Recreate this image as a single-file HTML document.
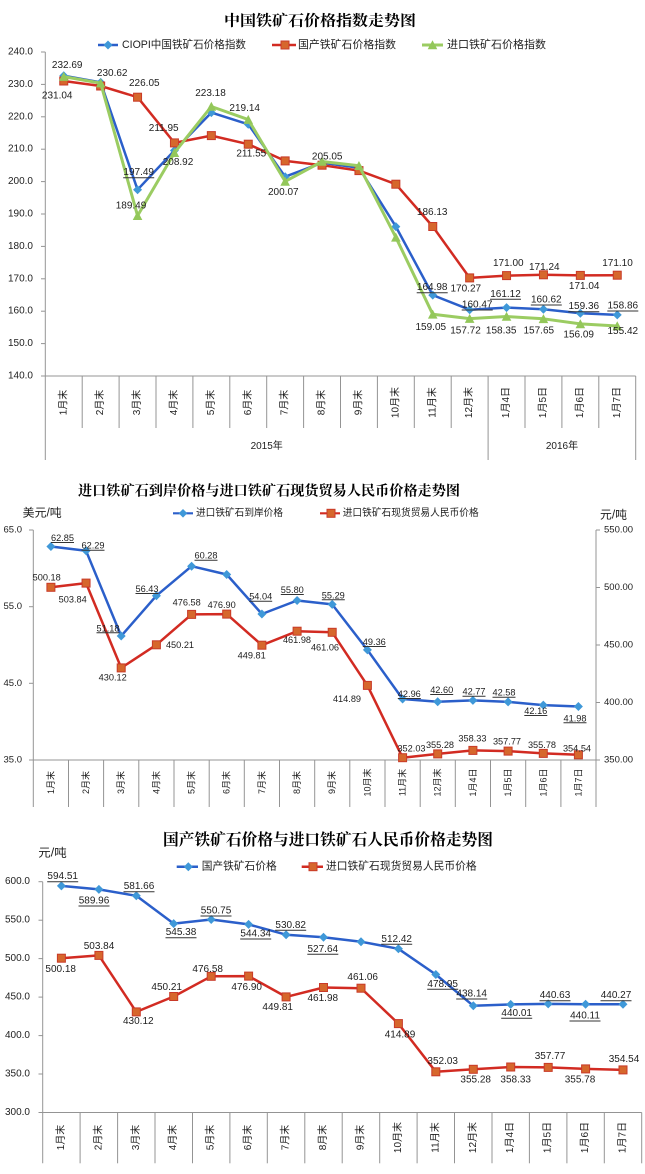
<!DOCTYPE html>
<html><head><meta charset="utf-8">
<style>
html,body{margin:0;padding:0;background:#fff;width:645px;height:1174px;overflow:hidden}
svg{display:block}
text{font-family:"Liberation Sans","Noto Sans CJK SC",sans-serif;fill:#1e1e1e}
.tt{font-family:"Liberation Serif","Noto Serif CJK SC",serif;font-weight:bold;fill:#000}
.lb{font-size:10px;text-anchor:middle;dominant-baseline:central}
.lb2{font-size:9.2px;text-anchor:middle;dominant-baseline:central}
.tk{font-size:10px;text-anchor:end;dominant-baseline:central}
.tk2{font-size:9.5px;dominant-baseline:central}
.ct{font-size:10px;text-anchor:middle;dominant-baseline:central}
.ct2{font-size:9px;text-anchor:middle;dominant-baseline:central}
.ax{stroke:#949494;stroke-width:1;fill:none}
.ul{stroke:#333;stroke-width:1}
.bl{fill:none;stroke:#2b5fca;stroke-width:2.5;stroke-linejoin:round}
.rd{fill:none;stroke:#d22b22;stroke-width:2.5;stroke-linejoin:round}
.gr{fill:none;stroke:#9bcc62;stroke-width:3;stroke-linejoin:round}
</style></head>
<body>
<svg width="645" height="1174" viewBox="0 0 645 1174" xmlns="http://www.w3.org/2000/svg">
<defs>
<marker id="d" viewBox="0 0 10 10" refX="5" refY="5" markerWidth="10" markerHeight="10" markerUnits="userSpaceOnUse"><path d="M5 0.5L9.5 5L5 9.5L0.5 5Z" fill="#3f98d8"/></marker>
<marker id="s" viewBox="0 0 10 10" refX="5" refY="5" markerWidth="10" markerHeight="10" markerUnits="userSpaceOnUse"><rect x="1" y="1" width="8" height="8" fill="#d6672c" stroke="#c93a28" stroke-width="1"/></marker>
<marker id="t" viewBox="0 0 10 10" refX="5" refY="5" markerWidth="10" markerHeight="10" markerUnits="userSpaceOnUse"><path d="M5 0.3L9.8 9.3L0.2 9.3Z" fill="#93c75a"/></marker>
</defs>

<!-- ================= CHART 1 ================= -->
<text class="tt" x="224" y="25.5" font-size="15" textLength="192" lengthAdjust="spacingAndGlyphs">中国铁矿石价格指数走势图</text>

<line x1="98" y1="45" x2="118" y2="45" stroke="#2b5fca" stroke-width="2.5"/>
<path d="M108 40.5L112.5 45L108 49.5L103.5 45Z" fill="#3f98d8"/>
<text x="122" y="45" font-size="11" dominant-baseline="central" textLength="124" lengthAdjust="spacingAndGlyphs">CIOPI中国铁矿石价格指数</text>
<line x1="272" y1="45" x2="296" y2="45" stroke="#d22b22" stroke-width="2.5"/>
<rect x="281" y="41" width="8" height="8" fill="#d6672c" stroke="#c93a28"/>
<text x="298" y="45" font-size="11" dominant-baseline="central" textLength="98" lengthAdjust="spacingAndGlyphs">国产铁矿石价格指数</text>
<line x1="422" y1="45" x2="443" y2="45" stroke="#9bcc62" stroke-width="3"/>
<path d="M432.5 40.3L437.3 49.3L427.7 49.3Z" fill="#93c75a"/>
<text x="447" y="45" font-size="11" dominant-baseline="central" textLength="99" lengthAdjust="spacingAndGlyphs">进口铁矿石价格指数</text>

<line class="ax" x1="45.3" y1="52" x2="45.3" y2="460"/>
<line class="ax" x1="45.3" y1="376" x2="635.7" y2="376"/>
<g class="ax">
<line x1="41" y1="52" x2="45.3" y2="52"/><line x1="41" y1="84.4" x2="45.3" y2="84.4"/><line x1="41" y1="116.8" x2="45.3" y2="116.8"/><line x1="41" y1="149.2" x2="45.3" y2="149.2"/><line x1="41" y1="181.6" x2="45.3" y2="181.6"/><line x1="41" y1="214" x2="45.3" y2="214"/><line x1="41" y1="246.4" x2="45.3" y2="246.4"/><line x1="41" y1="278.8" x2="45.3" y2="278.8"/><line x1="41" y1="311.2" x2="45.3" y2="311.2"/><line x1="41" y1="343.6" x2="45.3" y2="343.6"/><line x1="41" y1="376" x2="45.3" y2="376"/>
<line x1="82.2" y1="376" x2="82.2" y2="428"/><line x1="119.1" y1="376" x2="119.1" y2="428"/><line x1="156" y1="376" x2="156" y2="428"/><line x1="192.9" y1="376" x2="192.9" y2="428"/><line x1="229.8" y1="376" x2="229.8" y2="428"/><line x1="266.7" y1="376" x2="266.7" y2="428"/><line x1="303.6" y1="376" x2="303.6" y2="428"/><line x1="340.5" y1="376" x2="340.5" y2="428"/><line x1="377.4" y1="376" x2="377.4" y2="428"/><line x1="414.3" y1="376" x2="414.3" y2="428"/><line x1="451.2" y1="376" x2="451.2" y2="428"/><line x1="488.1" y1="376" x2="488.1" y2="460"/><line x1="525" y1="376" x2="525" y2="428"/><line x1="561.9" y1="376" x2="561.9" y2="428"/><line x1="598.8" y1="376" x2="598.8" y2="428"/><line x1="635.7" y1="376" x2="635.7" y2="460"/>
</g>
<text class="tk" x="33" y="52">240.0</text><text class="tk" x="33" y="84.4">230.0</text><text class="tk" x="33" y="116.8">220.0</text><text class="tk" x="33" y="149.2">210.0</text><text class="tk" x="33" y="181.6">200.0</text><text class="tk" x="33" y="214">190.0</text><text class="tk" x="33" y="246.4">180.0</text><text class="tk" x="33" y="278.8">170.0</text><text class="tk" x="33" y="311.2">160.0</text><text class="tk" x="33" y="343.6">150.0</text><text class="tk" x="33" y="376">140.0</text>

<text class="ct" transform="translate(63.75,402.5) rotate(-90)">1月末</text>
<text class="ct" transform="translate(100.65,402.5) rotate(-90)">2月末</text>
<text class="ct" transform="translate(137.55,402.5) rotate(-90)">3月末</text>
<text class="ct" transform="translate(174.45,402.5) rotate(-90)">4月末</text>
<text class="ct" transform="translate(211.35,402.5) rotate(-90)">5月末</text>
<text class="ct" transform="translate(248.25,402.5) rotate(-90)">6月末</text>
<text class="ct" transform="translate(285.15,402.5) rotate(-90)">7月末</text>
<text class="ct" transform="translate(322.05,402.5) rotate(-90)">8月末</text>
<text class="ct" transform="translate(358.95,402.5) rotate(-90)">9月末</text>
<text class="ct" transform="translate(395.85,402.5) rotate(-90)">10月末</text>
<text class="ct" transform="translate(432.75,402.5) rotate(-90)">11月末</text>
<text class="ct" transform="translate(469.65,402.5) rotate(-90)">12月末</text>
<text class="ct" transform="translate(506.55,402.5) rotate(-90)">1月4日</text>
<text class="ct" transform="translate(543.45,402.5) rotate(-90)">1月5日</text>
<text class="ct" transform="translate(580.35,402.5) rotate(-90)">1月6日</text>
<text class="ct" transform="translate(617.25,402.5) rotate(-90)">1月7日</text>
<text class="ct" x="266.7" y="446.7">2015年</text>
<text class="ct" x="562" y="446.7">2016年</text>

<polyline class="bl" marker-start="url(#d)" marker-mid="url(#d)" marker-end="url(#d)" points="63.75,75.7 100.65,82.4 137.55,189.7 174.45,150.5 211.35,112.6 248.25,124.3 285.15,176.7 322.05,162.8 358.95,167.7 395.85,226.6 432.75,295.1 469.65,309.7 506.55,307.6 543.45,309.2 580.35,313.3 617.25,314.9"/>
<polyline class="rd" marker-start="url(#s)" marker-mid="url(#s)" marker-end="url(#s)" points="63.75,81 100.65,86 137.55,97.2 174.45,142.9 211.35,135.6 248.25,144.2 285.15,160.9 322.05,165.2 358.95,170.6 395.85,184.2 432.75,226.5 469.65,277.9 506.55,275.6 543.45,274.8 580.35,275.4 617.25,275.2"/>
<polyline class="gr" marker-start="url(#t)" marker-mid="url(#t)" marker-end="url(#t)" points="63.75,76.6 100.65,83.1 137.55,215.7 174.45,152.7 211.35,106.5 248.25,119.6 285.15,181.4 322.05,161.5 358.95,165.7 395.85,237.3 432.75,314.3 469.65,318.6 506.55,316.5 543.45,318.8 580.35,323.9 617.25,326"/>

<text class="lb" x="67.2" y="65.7">232.69</text>
<text class="lb" x="57.2" y="96">231.04</text>
<text class="lb" x="112.2" y="73.3">230.62</text>
<text class="lb" x="144.3" y="83.3">226.05</text>
<text class="lb" x="138.7" y="172.7">197.49</text><line class="ul" x1="123.2" y1="177.7" x2="154.2" y2="177.7"/>
<text class="lb" x="131" y="206">189.49</text>
<text class="lb" x="163.7" y="128.3">211.95</text>
<text class="lb" x="178" y="162.7">208.92</text>
<text class="lb" x="210.5" y="93.3">223.18</text>
<text class="lb" x="244.7" y="108.7">219.14</text>
<text class="lb" x="251.3" y="154">211.55</text>
<text class="lb" x="283.3" y="192.7">200.07</text>
<text class="lb" x="327.2" y="157">205.05</text>
<text class="lb" x="432.2" y="212.3">186.13</text>
<text class="lb" x="432.2" y="287.7">164.98</text><line class="ul" x1="416.7" y1="292.7" x2="447.7" y2="292.7"/>
<text class="lb" x="430.8" y="327.3">159.05</text>
<text class="lb" x="465.8" y="289">170.27</text>
<text class="lb" x="477.2" y="305">160.47</text><line class="ul" x1="461.7" y1="310" x2="492.7" y2="310"/>
<text class="lb" x="465.5" y="331">157.72</text>
<text class="lb" x="508.3" y="263.3">171.00</text>
<text class="lb" x="505.5" y="294.3">161.12</text><line class="ul" x1="490" y1="299.3" x2="521" y2="299.3"/>
<text class="lb" x="501.2" y="331">158.35</text>
<text class="lb" x="544.3" y="267.3">171.24</text>
<text class="lb" x="546.3" y="300">160.62</text><line class="ul" x1="530.8" y1="305" x2="561.8" y2="305"/>
<text class="lb" x="538.8" y="331">157.65</text>
<text class="lb" x="584.2" y="286.7">171.04</text>
<text class="lb" x="583.8" y="306.7">159.36</text><line class="ul" x1="568.3" y1="311.7" x2="599.3" y2="311.7"/>
<text class="lb" x="578.7" y="335">156.09</text>
<text class="lb" x="617.5" y="263.3">171.10</text>
<text class="lb" x="622.8" y="306">158.86</text><line class="ul" x1="607.3" y1="311" x2="638.3" y2="311"/>
<text class="lb" x="622.8" y="331.7">155.42</text>

<!-- ================= CHART 2 ================= -->
<text class="tt" x="78" y="495.5" font-size="14" textLength="382" lengthAdjust="spacingAndGlyphs">进口铁矿石到岸价格与进口铁矿石现货贸易人民币价格走势图</text>
<text x="22.7" y="513.5" font-size="11.5" dominant-baseline="central" textLength="39" lengthAdjust="spacingAndGlyphs">美元/吨</text>
<text x="600" y="515.7" font-size="11.5" dominant-baseline="central" textLength="27" lengthAdjust="spacingAndGlyphs">元/吨</text>

<line x1="173" y1="513.3" x2="193" y2="513.3" stroke="#2b5fca" stroke-width="2.2"/>
<path d="M183 509L187.3 513.3L183 517.6L178.7 513.3Z" fill="#3f98d8"/>
<text x="196" y="513.3" font-size="10" dominant-baseline="central" textLength="87" lengthAdjust="spacingAndGlyphs">进口铁矿石到岸价格</text>
<line x1="320" y1="513.3" x2="340" y2="513.3" stroke="#d22b22" stroke-width="2.2"/>
<rect x="327" y="509.3" width="8" height="8" fill="#d6672c" stroke="#c93a28"/>
<text x="342.7" y="513.3" font-size="10" dominant-baseline="central" textLength="136" lengthAdjust="spacingAndGlyphs">进口铁矿石现货贸易人民币价格</text>

<line class="ax" x1="33.3" y1="530" x2="33.3" y2="807"/>
<line class="ax" x1="596" y1="530" x2="596" y2="807"/>
<line class="ax" x1="33.3" y1="760" x2="596" y2="760"/>
<g class="ax">
<line x1="29" y1="530" x2="33.3" y2="530"/><line x1="29" y1="606.7" x2="33.3" y2="606.7"/><line x1="29" y1="683.3" x2="33.3" y2="683.3"/><line x1="29" y1="760" x2="33.3" y2="760"/>
<line x1="596" y1="530" x2="600" y2="530"/><line x1="596" y1="587.5" x2="600" y2="587.5"/><line x1="596" y1="645" x2="600" y2="645"/><line x1="596" y1="702.5" x2="600" y2="702.5"/><line x1="596" y1="760" x2="600" y2="760"/>
<line x1="68.5" y1="760" x2="68.5" y2="807"/><line x1="103.6" y1="760" x2="103.6" y2="807"/><line x1="138.8" y1="760" x2="138.8" y2="807"/><line x1="174" y1="760" x2="174" y2="807"/><line x1="209.2" y1="760" x2="209.2" y2="807"/><line x1="244.3" y1="760" x2="244.3" y2="807"/><line x1="279.5" y1="760" x2="279.5" y2="807"/><line x1="314.7" y1="760" x2="314.7" y2="807"/><line x1="349.8" y1="760" x2="349.8" y2="807"/><line x1="385" y1="760" x2="385" y2="807"/><line x1="420.2" y1="760" x2="420.2" y2="807"/><line x1="455.3" y1="760" x2="455.3" y2="807"/><line x1="490.5" y1="760" x2="490.5" y2="807"/><line x1="525.7" y1="760" x2="525.7" y2="807"/><line x1="560.9" y1="760" x2="560.9" y2="807"/>
</g>
<text class="tk2" x="22" y="530" text-anchor="end">65.0</text><text class="tk2" x="22" y="606.7" text-anchor="end">55.0</text><text class="tk2" x="22" y="683.3" text-anchor="end">45.0</text><text class="tk2" x="22" y="760" text-anchor="end">35.0</text>
<text class="tk2" x="604" y="530">550.00</text><text class="tk2" x="604" y="587.5">500.00</text><text class="tk2" x="604" y="645">450.00</text><text class="tk2" x="604" y="702.5">400.00</text><text class="tk2" x="604" y="760">350.00</text>

<text class="ct2" transform="translate(50.9,782.5) rotate(-90)">1月末</text>
<text class="ct2" transform="translate(86.05,782.5) rotate(-90)">2月末</text>
<text class="ct2" transform="translate(121.2,782.5) rotate(-90)">3月末</text>
<text class="ct2" transform="translate(156.4,782.5) rotate(-90)">4月末</text>
<text class="ct2" transform="translate(191.6,782.5) rotate(-90)">5月末</text>
<text class="ct2" transform="translate(226.7,782.5) rotate(-90)">6月末</text>
<text class="ct2" transform="translate(261.9,782.5) rotate(-90)">7月末</text>
<text class="ct2" transform="translate(297.1,782.5) rotate(-90)">8月末</text>
<text class="ct2" transform="translate(332.2,782.5) rotate(-90)">9月末</text>
<text class="ct2" transform="translate(367.4,782.5) rotate(-90)">10月末</text>
<text class="ct2" transform="translate(402.6,782.5) rotate(-90)">11月末</text>
<text class="ct2" transform="translate(437.7,782.5) rotate(-90)">12月末</text>
<text class="ct2" transform="translate(472.9,782.5) rotate(-90)">1月4日</text>
<text class="ct2" transform="translate(508.1,782.5) rotate(-90)">1月5日</text>
<text class="ct2" transform="translate(543.3,782.5) rotate(-90)">1月6日</text>
<text class="ct2" transform="translate(578.4,782.5) rotate(-90)">1月7日</text>

<polyline class="bl" marker-start="url(#d)" marker-mid="url(#d)" marker-end="url(#d)" points="50.9,546.5 86.05,550.8 121.2,636 156.4,595.7 191.6,566.2 226.7,574.5 261.9,614 297.1,600.5 332.2,604.4 367.4,649.9 402.6,699 437.7,701.7 472.9,700.4 508.1,701.9 543.3,705.1 578.4,706.5"/>
<polyline class="rd" marker-start="url(#s)" marker-mid="url(#s)" marker-end="url(#s)" points="50.9,587.3 86.05,583.1 121.2,667.9 156.4,644.8 191.6,614.4 226.7,614.1 261.9,645.2 297.1,631.2 332.2,632.3 367.4,685.4 402.6,757.7 437.7,753.9 472.9,750.4 508.1,751.1 543.3,753.4 578.4,754.8"/>

<text class="lb2" x="62.5" y="538">62.85</text><line class="ul" x1="51" y1="542.5" x2="74" y2="542.5"/>
<text class="lb2" x="93" y="545.7">62.29</text><line class="ul" x1="81.5" y1="550.2" x2="104.5" y2="550.2"/>
<text class="lb2" x="108" y="628.3">51.18</text><line class="ul" x1="96.5" y1="632.8" x2="119.5" y2="632.8"/>
<text class="lb2" x="147" y="589">56.43</text><line class="ul" x1="135.5" y1="593.5" x2="158.5" y2="593.5"/>
<text class="lb2" x="206" y="555.7">60.28</text><line class="ul" x1="194.5" y1="560.2" x2="217.5" y2="560.2"/>
<text class="lb2" x="260.7" y="596.7">54.04</text><line class="ul" x1="249.2" y1="601.2" x2="272.2" y2="601.2"/>
<text class="lb2" x="292.3" y="590">55.80</text><line class="ul" x1="280.8" y1="594.5" x2="303.8" y2="594.5"/>
<text class="lb2" x="333.3" y="595.3">55.29</text><line class="ul" x1="321.8" y1="599.8" x2="344.8" y2="599.8"/>
<text class="lb2" x="374.3" y="642">49.36</text><line class="ul" x1="362.8" y1="646.5" x2="385.8" y2="646.5"/>
<text class="lb2" x="409.3" y="694">42.96</text><line class="ul" x1="397.8" y1="698.5" x2="420.8" y2="698.5"/>
<text class="lb2" x="441.7" y="690">42.60</text><line class="ul" x1="430.2" y1="694.5" x2="453.2" y2="694.5"/>
<text class="lb2" x="474" y="691.7">42.77</text><line class="ul" x1="462.5" y1="696.2" x2="485.5" y2="696.2"/>
<text class="lb2" x="504" y="692.7">42.58</text><line class="ul" x1="492.5" y1="697.2" x2="515.5" y2="697.2"/>
<text class="lb2" x="535.8" y="711">42.16</text><line class="ul" x1="524.3" y1="715.5" x2="547.3" y2="715.5"/>
<text class="lb2" x="575" y="718.3">41.98</text><line class="ul" x1="563.5" y1="722.8" x2="586.5" y2="722.8"/>

<text class="lb2" x="46.7" y="577.3">500.18</text>
<text class="lb2" x="72.7" y="599.3">503.84</text>
<text class="lb2" x="112.7" y="677.3">430.12</text>
<text class="lb2" x="180" y="645">450.21</text>
<text class="lb2" x="186.7" y="602.3">476.58</text>
<text class="lb2" x="221.7" y="605">476.90</text>
<text class="lb2" x="251.7" y="655.7">449.81</text>
<text class="lb2" x="297" y="640">461.98</text>
<text class="lb2" x="325" y="647.7">461.06</text>
<text class="lb2" x="347" y="699">414.89</text>
<text class="lb2" x="411.5" y="748.3">352.03</text>
<text class="lb2" x="440" y="745">355.28</text>
<text class="lb2" x="472.4" y="738.3">358.33</text>
<text class="lb2" x="507" y="741.7">357.77</text>
<text class="lb2" x="542" y="745">355.78</text>
<text class="lb2" x="577" y="748.3">354.54</text>

<!-- ================= CHART 3 ================= -->
<text class="tt" x="163" y="845" font-size="16" textLength="330" lengthAdjust="spacingAndGlyphs">国产铁矿石价格与进口铁矿石人民币价格走势图</text>
<text x="38.3" y="853.3" font-size="11.5" dominant-baseline="central" textLength="28.4" lengthAdjust="spacingAndGlyphs">元/吨</text>

<line x1="176.7" y1="866.7" x2="198" y2="866.7" stroke="#2b5fca" stroke-width="2.5"/>
<path d="M188.3 862.2L192.8 866.7L188.3 871.2L183.8 866.7Z" fill="#3f98d8"/>
<text x="201.7" y="866.7" font-size="11" dominant-baseline="central" textLength="75" lengthAdjust="spacingAndGlyphs">国产铁矿石价格</text>
<line x1="301.7" y1="866.7" x2="323" y2="866.7" stroke="#d22b22" stroke-width="2.5"/>
<rect x="309" y="862.7" width="8" height="8" fill="#d6672c" stroke="#c93a28"/>
<text x="326" y="866.7" font-size="11" dominant-baseline="central" textLength="150.7" lengthAdjust="spacingAndGlyphs">进口铁矿石现货贸易人民币价格</text>

<line class="ax" x1="42.7" y1="881.7" x2="42.7" y2="1163.3"/>
<line class="ax" x1="42.7" y1="1112.5" x2="641.7" y2="1112.5"/>
<g class="ax">
<line x1="38.5" y1="881.7" x2="42.7" y2="881.7"/><line x1="38.5" y1="920.2" x2="42.7" y2="920.2"/><line x1="38.5" y1="958.6" x2="42.7" y2="958.6"/><line x1="38.5" y1="997.1" x2="42.7" y2="997.1"/><line x1="38.5" y1="1035.6" x2="42.7" y2="1035.6"/><line x1="38.5" y1="1074" x2="42.7" y2="1074"/><line x1="38.5" y1="1112.5" x2="42.7" y2="1112.5"/>
<line x1="80.1" y1="1112.5" x2="80.1" y2="1163.3"/><line x1="117.6" y1="1112.5" x2="117.6" y2="1163.3"/><line x1="155" y1="1112.5" x2="155" y2="1163.3"/><line x1="192.5" y1="1112.5" x2="192.5" y2="1163.3"/><line x1="229.9" y1="1112.5" x2="229.9" y2="1163.3"/><line x1="267.3" y1="1112.5" x2="267.3" y2="1163.3"/><line x1="304.8" y1="1112.5" x2="304.8" y2="1163.3"/><line x1="342.2" y1="1112.5" x2="342.2" y2="1163.3"/><line x1="379.7" y1="1112.5" x2="379.7" y2="1163.3"/><line x1="417.1" y1="1112.5" x2="417.1" y2="1163.3"/><line x1="454.5" y1="1112.5" x2="454.5" y2="1163.3"/><line x1="492" y1="1112.5" x2="492" y2="1163.3"/><line x1="529.4" y1="1112.5" x2="529.4" y2="1163.3"/><line x1="566.9" y1="1112.5" x2="566.9" y2="1163.3"/><line x1="604.3" y1="1112.5" x2="604.3" y2="1163.3"/><line x1="641.7" y1="1112.5" x2="641.7" y2="1163.3"/>
</g>
<text class="tk" x="30" y="881.7">600.0</text><text class="tk" x="30" y="920.2">550.0</text><text class="tk" x="30" y="958.6">500.0</text><text class="tk" x="30" y="997.1">450.0</text><text class="tk" x="30" y="1035.6">400.0</text><text class="tk" x="30" y="1074">350.0</text><text class="tk" x="30" y="1112.5">300.0</text>

<text class="ct" transform="translate(61.4,1137.5) rotate(-90)">1月末</text>
<text class="ct" transform="translate(98.9,1137.5) rotate(-90)">2月末</text>
<text class="ct" transform="translate(136.3,1137.5) rotate(-90)">3月末</text>
<text class="ct" transform="translate(173.7,1137.5) rotate(-90)">4月末</text>
<text class="ct" transform="translate(211.2,1137.5) rotate(-90)">5月末</text>
<text class="ct" transform="translate(248.6,1137.5) rotate(-90)">6月末</text>
<text class="ct" transform="translate(286.1,1137.5) rotate(-90)">7月末</text>
<text class="ct" transform="translate(323.5,1137.5) rotate(-90)">8月末</text>
<text class="ct" transform="translate(361,1137.5) rotate(-90)">9月末</text>
<text class="ct" transform="translate(398.4,1137.5) rotate(-90)">10月末</text>
<text class="ct" transform="translate(435.8,1137.5) rotate(-90)">11月末</text>
<text class="ct" transform="translate(473.3,1137.5) rotate(-90)">12月末</text>
<text class="ct" transform="translate(510.7,1137.5) rotate(-90)">1月4日</text>
<text class="ct" transform="translate(548.2,1137.5) rotate(-90)">1月5日</text>
<text class="ct" transform="translate(585.6,1137.5) rotate(-90)">1月6日</text>
<text class="ct" transform="translate(623,1137.5) rotate(-90)">1月7日</text>

<polyline class="bl" marker-start="url(#d)" marker-mid="url(#d)" marker-end="url(#d)" points="61.4,885.9 98.9,889.4 136.3,895.8 173.7,923.6 211.2,919.5 248.6,924.4 286.1,934.7 323.5,937.2 361,941.7 398.4,948.8 435.8,974.5 473.3,1005.8 510.7,1004.4 548.2,1003.9 585.6,1004.3 623,1004.2"/>
<polyline class="rd" marker-start="url(#s)" marker-mid="url(#s)" marker-end="url(#s)" points="61.4,958.2 98.9,955.4 136.3,1011.9 173.7,996.5 211.2,976.3 248.6,976.1 286.1,996.9 323.5,987.5 361,988.2 398.4,1023.6 435.8,1071.8 473.3,1069.3 510.7,1067 548.2,1067.4 585.6,1068.9 623,1069.9"/>

<text class="lb" x="62.7" y="876.7">594.51</text><line class="ul" x1="47.2" y1="881.7" x2="78.2" y2="881.7"/>
<text class="lb" x="94" y="901">589.96</text><line class="ul" x1="78.5" y1="906" x2="109.5" y2="906"/>
<text class="lb" x="139" y="886.7">581.66</text><line class="ul" x1="123.5" y1="891.7" x2="154.5" y2="891.7"/>
<text class="lb" x="181" y="932.7">545.38</text><line class="ul" x1="165.5" y1="937.7" x2="196.5" y2="937.7"/>
<text class="lb" x="216" y="911">550.75</text><line class="ul" x1="200.5" y1="916" x2="231.5" y2="916"/>
<text class="lb" x="255.7" y="934">544.34</text><line class="ul" x1="240.2" y1="939" x2="271.2" y2="939"/>
<text class="lb" x="290.7" y="925.3">530.82</text><line class="ul" x1="275.2" y1="930.3" x2="306.2" y2="930.3"/>
<text class="lb" x="322.8" y="949.3">527.64</text><line class="ul" x1="307.3" y1="954.3" x2="338.3" y2="954.3"/>
<text class="lb" x="396.7" y="939.3">512.42</text><line class="ul" x1="381.2" y1="944.3" x2="412.2" y2="944.3"/>
<text class="lb" x="442.7" y="984.3">478.95</text><line class="ul" x1="427.2" y1="989.3" x2="458.2" y2="989.3"/>
<text class="lb" x="471.7" y="994">438.14</text><line class="ul" x1="456.2" y1="999" x2="487.2" y2="999"/>
<text class="lb" x="516.7" y="1013.3">440.01</text><line class="ul" x1="501.2" y1="1018.3" x2="532.2" y2="1018.3"/>
<text class="lb" x="555" y="995.7">440.63</text><line class="ul" x1="539.5" y1="1000.7" x2="570.5" y2="1000.7"/>
<text class="lb" x="585" y="1016">440.11</text><line class="ul" x1="569.5" y1="1021" x2="600.5" y2="1021"/>
<text class="lb" x="616" y="995.7">440.27</text><line class="ul" x1="600.5" y1="1000.7" x2="631.5" y2="1000.7"/>

<text class="lb" x="60.7" y="969.3">500.18</text>
<text class="lb" x="99" y="946.7">503.84</text>
<text class="lb" x="138.3" y="1021.7">430.12</text>
<text class="lb" x="166.7" y="987.7">450.21</text>
<text class="lb" x="207.7" y="969.3">476.58</text>
<text class="lb" x="246.7" y="987.7">476.90</text>
<text class="lb" x="277.7" y="1007.3">449.81</text>
<text class="lb" x="322.8" y="998.3">461.98</text>
<text class="lb" x="362.7" y="977.7">461.06</text>
<text class="lb" x="400" y="1035">414.89</text>
<text class="lb" x="442.7" y="1061.7">352.03</text>
<text class="lb" x="475.7" y="1080">355.28</text>
<text class="lb" x="515.7" y="1080">358.33</text>
<text class="lb" x="550" y="1056.7">357.77</text>
<text class="lb" x="580" y="1080">355.78</text>
<text class="lb" x="624" y="1059.3">354.54</text>
</svg>
</body></html>
